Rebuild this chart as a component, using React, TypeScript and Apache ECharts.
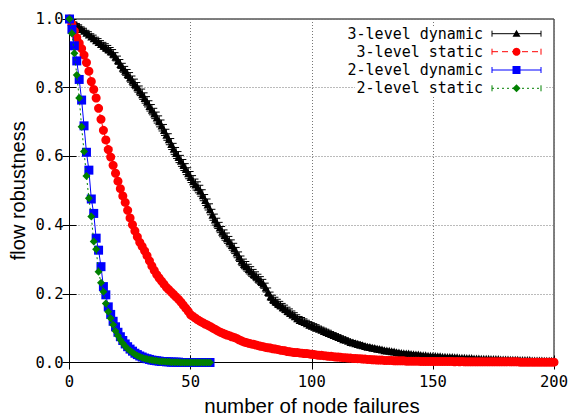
import React, { useEffect, useRef } from 'react';
import * as echarts from 'echarts';

const seriesNames = ['3-level dynamic', '3-level static', '2-level dynamic', '2-level static'];

// flow robustness vs number of node failures (x = index)
const threeLevelDynamic = [
  1.000, 0.993, 0.987, 0.982, 0.977, 0.971, 0.966, 0.960, 0.955, 0.949,
  0.944, 0.938, 0.933, 0.927, 0.922, 0.917, 0.912, 0.906, 0.899, 0.890,
  0.880, 0.869, 0.858, 0.849, 0.840, 0.830, 0.820, 0.811, 0.801, 0.791,
  0.781, 0.770, 0.759, 0.747, 0.736, 0.725, 0.713, 0.702, 0.690, 0.677,
  0.663, 0.650, 0.636, 0.622, 0.610, 0.598, 0.587, 0.575, 0.563, 0.551,
  0.540, 0.528, 0.518, 0.510, 0.500, 0.487, 0.473, 0.460, 0.446, 0.430,
  0.416, 0.405, 0.393, 0.381, 0.371, 0.362, 0.352, 0.342, 0.332, 0.320,
  0.308, 0.296, 0.287, 0.280, 0.272, 0.265, 0.258, 0.251, 0.244, 0.237,
  0.229, 0.218, 0.205, 0.193, 0.184, 0.178, 0.172, 0.167, 0.161, 0.156,
  0.150, 0.145, 0.140, 0.135, 0.129, 0.124, 0.121, 0.118, 0.114, 0.110,
  0.107, 0.104, 0.101, 0.098, 0.095, 0.092, 0.089, 0.086, 0.083, 0.080,
  0.077, 0.074, 0.071, 0.068, 0.066, 0.063, 0.060, 0.058, 0.056, 0.054,
  0.052, 0.050, 0.048, 0.046, 0.045, 0.043, 0.042, 0.040, 0.039, 0.038,
  0.036, 0.035, 0.034, 0.033, 0.032, 0.030, 0.029, 0.028, 0.027, 0.026,
  0.026, 0.025, 0.024, 0.023, 0.023, 0.022, 0.021, 0.021, 0.020, 0.020,
  0.019, 0.019, 0.018, 0.018, 0.017, 0.017, 0.016, 0.016, 0.016, 0.015,
  0.015, 0.014, 0.014, 0.014, 0.013, 0.013, 0.013, 0.012, 0.012, 0.012,
  0.011, 0.011, 0.011, 0.011, 0.010, 0.010, 0.010, 0.010, 0.009, 0.009,
  0.009, 0.009, 0.008, 0.008, 0.008, 0.008, 0.007, 0.007, 0.007, 0.007,
  0.007, 0.006, 0.006, 0.006, 0.006, 0.006, 0.005, 0.005, 0.005, 0.005,
  0.005,
];

const threeLevelDynamicErr = [
  0.000, 0.003, 0.004, 0.005, 0.006, 0.006, 0.007, 0.007, 0.008, 0.008,
  0.009, 0.009, 0.010, 0.010, 0.010, 0.011, 0.011, 0.011, 0.012, 0.012,
  0.012, 0.013, 0.013, 0.013, 0.013, 0.014, 0.014, 0.014, 0.014, 0.014,
  0.015, 0.015, 0.015, 0.015, 0.015, 0.015, 0.016, 0.016, 0.016, 0.016,
  0.016, 0.016, 0.016, 0.016, 0.016, 0.016, 0.016, 0.016, 0.016, 0.016,
  0.016, 0.016, 0.016, 0.016, 0.016, 0.016, 0.016, 0.016, 0.016, 0.016,
  0.016, 0.015, 0.015, 0.015, 0.015, 0.015, 0.015, 0.015, 0.015, 0.015,
  0.014, 0.014, 0.014, 0.014, 0.014, 0.014, 0.013, 0.013, 0.013, 0.013,
  0.013, 0.013, 0.012, 0.012, 0.012, 0.012, 0.012, 0.011, 0.011, 0.011,
  0.011, 0.011, 0.010, 0.010, 0.010, 0.010, 0.010, 0.009, 0.009, 0.009,
  0.009, 0.009, 0.009, 0.008, 0.008, 0.008, 0.008, 0.008, 0.007, 0.007,
  0.007, 0.007, 0.007, 0.007, 0.006, 0.006, 0.006, 0.006, 0.006, 0.006,
  0.006, 0.005, 0.005, 0.005, 0.005, 0.005, 0.005, 0.005, 0.005, 0.004,
  0.004, 0.004, 0.004, 0.004, 0.004, 0.004, 0.004, 0.004, 0.004, 0.004,
  0.004, 0.004, 0.004, 0.004, 0.004, 0.003, 0.003, 0.003, 0.003, 0.003,
  0.003, 0.003, 0.003, 0.003, 0.003, 0.003, 0.003, 0.003, 0.003, 0.003,
  0.003, 0.003, 0.003, 0.003, 0.003, 0.003, 0.003, 0.003, 0.003, 0.003,
  0.003, 0.003, 0.003, 0.003, 0.002, 0.002, 0.002, 0.002, 0.002, 0.002,
  0.002, 0.002, 0.002, 0.002, 0.002, 0.002, 0.002, 0.002, 0.002, 0.002,
  0.002, 0.002, 0.002, 0.002, 0.002, 0.002, 0.002, 0.002, 0.002, 0.002,
  0.002,
];

const threeLevelStatic = [
  1.000, 0.985, 0.965, 0.946, 0.930, 0.914, 0.895, 0.873, 0.848, 0.818,
  0.795, 0.770, 0.740, 0.708, 0.676, 0.648, 0.620, 0.598, 0.574, 0.551,
  0.528, 0.506, 0.485, 0.466, 0.443, 0.421, 0.401, 0.383, 0.366, 0.350,
  0.338, 0.325, 0.311, 0.296, 0.281, 0.268, 0.256, 0.246, 0.237, 0.228,
  0.219, 0.212, 0.205, 0.198, 0.191, 0.184, 0.176, 0.167, 0.158, 0.149,
  0.139, 0.134, 0.129, 0.124, 0.120, 0.116, 0.112, 0.109, 0.105, 0.101,
  0.097, 0.093, 0.089, 0.086, 0.083, 0.080, 0.078, 0.075, 0.073, 0.070,
  0.066, 0.063, 0.060, 0.058, 0.056, 0.054, 0.053, 0.051, 0.049, 0.047,
  0.046, 0.044, 0.043, 0.042, 0.040, 0.039, 0.038, 0.036, 0.035, 0.034,
  0.032, 0.031, 0.030, 0.029, 0.029, 0.028, 0.027, 0.026, 0.026, 0.025,
  0.024, 0.023, 0.022, 0.021, 0.021, 0.020, 0.019, 0.018, 0.018, 0.017,
  0.016, 0.016, 0.015, 0.014, 0.014, 0.013, 0.013, 0.012, 0.012, 0.011,
  0.011, 0.010, 0.010, 0.009, 0.009, 0.008, 0.008, 0.007, 0.007, 0.007,
  0.006, 0.006, 0.006, 0.006, 0.005, 0.005, 0.005, 0.005, 0.005, 0.004,
  0.004, 0.004, 0.004, 0.004, 0.004, 0.003, 0.003, 0.003, 0.003, 0.003,
  0.003, 0.003, 0.003, 0.003, 0.003, 0.003, 0.003, 0.003, 0.003, 0.002,
  0.003, 0.002, 0.003, 0.002, 0.002, 0.002, 0.002, 0.002, 0.002, 0.002,
  0.002, 0.002, 0.002, 0.002, 0.002, 0.002, 0.002, 0.002, 0.002, 0.002,
  0.002, 0.002, 0.002, 0.002, 0.002, 0.002, 0.001, 0.001, 0.001, 0.001,
  0.001, 0.001, 0.001, 0.001, 0.001, 0.001, 0.001, 0.001, 0.001, 0.001,
  0.001,
];

const twoLevelDynamic = [
  1.000, 0.970, 0.922, 0.878, 0.824, 0.764, 0.689, 0.612, 0.560, 0.476,
  0.434, 0.362, 0.327, 0.279, 0.221, 0.197, 0.162, 0.140, 0.120, 0.104,
  0.088, 0.075, 0.064, 0.054, 0.046, 0.039, 0.033, 0.027, 0.023, 0.019,
  0.016, 0.013, 0.011, 0.009, 0.007, 0.006, 0.005, 0.004, 0.003, 0.003,
  0.002, 0.002, 0.001, 0.001, 0.001, 0.001, 0.000, 0.000, 0.000, 0.000,
  0.000, 0.000, 0.000, 0.000, 0.000, 0.000, 0.000, 0.000, 0.000,
];

const twoLevelStatic = [
  1.000, 0.958, 0.900, 0.837, 0.770, 0.686, 0.614, 0.543, 0.478, 0.425,
  0.352, 0.330, 0.264, 0.232, 0.206, 0.172, 0.148, 0.129, 0.110, 0.092,
  0.078, 0.066, 0.056, 0.047, 0.040, 0.034, 0.029, 0.024, 0.020, 0.017,
  0.014, 0.012, 0.010, 0.008, 0.007, 0.006, 0.005, 0.004, 0.003, 0.003,
  0.002, 0.002, 0.001, 0.001, 0.001, 0.001, 0.000, 0.000, 0.000, 0.000,
  0.000, 0.000, 0.000, 0.000, 0.000, 0.000, 0.000, 0.000, 0.000,
];

const xTickValues = [0, 50, 100, 150, 200];
const yTickLabels = ['0.0', '0.2', '0.4', '0.6', '0.8', '1.0'];
const xAxisTitle = 'number of node failures';
const yAxisTitle = 'flow robustness';

const GRID = { left: 69.5, top: 19, width: 485, height: 343.5 };
const MONO = 'DejaVu Sans Mono';
const SANS = 'Liberation Sans';

const pairs = (arr: number[]) => arr.map((v, i) => [i, v]);

export default function App() {
  const ref = useRef<HTMLDivElement>(null);
  useEffect(() => {
    document.body.style.margin = '0';
    if (!ref.current) return;
    const chart = echarts.init(ref.current, undefined, { renderer: 'svg' });

    const colors = ['#000000', '#ff0000', '#0000ff', '#008000'];
    const dashes: any[] = ['solid', [6, 4], 'solid', [2, 3]];

    // legend graphics
    const rowY = [33.7, 51.7, 70, 88.3];
    const textRight = 483;
    const lx1 = 492, lx2 = 541, mx = 516.5;
    const legendEls: any[] = [
      { type: 'rect', shape: { x: 355, y: 26, width: 190, height: 71 }, style: { fill: '#fff' }, z: 50 },
    ];
    seriesNames.forEach((name, i) => {
      const y = rowY[i];
      const c = colors[i];
      legendEls.push({
        type: 'text', x: textRight, y, z: 60,
        style: { text: name, font: `15px "${MONO}"`, fill: '#000', align: 'right', verticalAlign: 'middle' },
      });
      legendEls.push({
        type: 'line', z: 60, shape: { x1: lx1, y1: y, x2: lx2, y2: y },
        style: { stroke: c, lineWidth: 1, lineDash: dashes[i] === 'solid' ? null : dashes[i] },
      });
      legendEls.push({ type: 'line', z: 60, shape: { x1: lx1, y1: y - 3, x2: lx1, y2: y + 3 }, style: { stroke: c, lineWidth: 1 } });
      legendEls.push({ type: 'line', z: 60, shape: { x1: lx2, y1: y - 3, x2: lx2, y2: y + 3 }, style: { stroke: c, lineWidth: 1 } });
      if (i === 0) {
        legendEls.push({ type: 'polygon', z: 61, shape: { points: [[mx, y - 4], [mx + 4, y + 3], [mx - 4, y + 3]] }, style: { fill: c } });
      } else if (i === 1) {
        legendEls.push({ type: 'circle', z: 61, shape: { cx: mx, cy: y, r: 4 }, style: { fill: c } });
      } else if (i === 2) {
        legendEls.push({ type: 'rect', z: 61, shape: { x: mx - 4, y: y - 4, width: 8, height: 8 }, style: { fill: c } });
      } else {
        legendEls.push({ type: 'polygon', z: 61, shape: { points: [[mx, y - 4], [mx + 4, y], [mx, y + 4], [mx - 4, y]] }, style: { fill: c } });
      }
    });

    const gridMidY = GRID.top + GRID.height / 2;
    const gridMidX = GRID.left + GRID.width / 2;
    const titles: any[] = [
      {
        type: 'text', x: 18, y: gridMidY, rotation: Math.PI / 2, z: 60,
        style: { text: yAxisTitle, font: `20px "${SANS}"`, fill: '#000', align: 'center', verticalAlign: 'middle' },
      },
      {
        type: 'text', x: gridMidX, y: 405, z: 60,
        style: { text: xAxisTitle, font: `20.5px "${SANS}"`, fill: '#000', align: 'center', verticalAlign: 'middle' },
      },
    ];

    const splitLine = { show: true, lineStyle: { color: '#777', type: [1, 2], width: 1 } };
    const axisLine = { show: true, lineStyle: { color: '#000', width: 1 } };
    const axisTick = { show: true, inside: true, length: 7, lineStyle: { color: '#000', width: 1 } };

    const mkLine = (i: number, arr: number[], symbol: string, size: number) => ({
      type: 'line',
      name: seriesNames[i],
      data: pairs(arr),
      symbol,
      symbolSize: size,
      showSymbol: true,
      showAllSymbol: true,
      color: colors[i],
      lineStyle: { color: colors[i], width: 1, type: dashes[i] },
      itemStyle: { color: colors[i] },
      clip: false,
      silent: true,
      z: 3 + i,
    });

    chart.setOption({
      animation: false,
      grid: { ...GRID, show: true, borderColor: '#000', borderWidth: 1, backgroundColor: 'transparent' },
      xAxis: [
        {
          type: 'value', min: 0, max: 200, interval: 50, position: 'bottom',
          axisLine, axisTick, splitLine,
          axisLabel: {
            fontFamily: MONO, fontSize: 15.5, color: '#000', margin: 11,
            formatter: (v: number) => (xTickValues.includes(v) ? String(v) : ''),
          },
        },
        {
          type: 'value', min: 0, max: 200, interval: 50, position: 'top',
          axisLine, axisTick, splitLine: { show: false }, axisLabel: { show: false },
        },
      ],
      yAxis: [
        {
          type: 'value', min: 0, max: 1, interval: 0.2, position: 'left',
          axisLine, axisTick, splitLine,
          axisLabel: {
            fontFamily: MONO, fontSize: 15.5, color: '#000', margin: 6,
            formatter: (v: number) => yTickLabels[Math.round(v / 0.2)] ?? '',
          },
        },
        {
          type: 'value', min: 0, max: 1, interval: 0.2, position: 'right',
          axisLine, axisTick, splitLine: { show: false }, axisLabel: { show: false },
        },
      ],
      series: [
        {
          type: 'custom',
          data: threeLevelDynamic.map((v, i) => [i, v, threeLevelDynamicErr[i]]),
          encode: { x: 0, y: 1 },
          silent: true,
          z: 2,
          renderItem: (_p: any, api: any) => {
            const x = api.value(0), y = api.value(1), e = api.value(2);
            const lo = api.coord([x, y - e]);
            const hi = api.coord([x, y + e]);
            const w = 3;
            const st = { stroke: '#000', lineWidth: 1 };
            return {
              type: 'group',
              children: [
                { type: 'line', shape: { x1: lo[0], y1: lo[1], x2: hi[0], y2: hi[1] }, style: st },
                { type: 'line', shape: { x1: lo[0] - w, y1: lo[1], x2: lo[0] + w, y2: lo[1] }, style: st },
                { type: 'line', shape: { x1: hi[0] - w, y1: hi[1], x2: hi[0] + w, y2: hi[1] }, style: st },
              ],
            };
          },
        },
        mkLine(0, threeLevelDynamic, 'triangle', 8),
        mkLine(1, threeLevelStatic, 'circle', 9),
        mkLine(2, twoLevelDynamic, 'rect', 9),
        mkLine(3, twoLevelStatic, 'diamond', 8),
      ],
      graphic: [...legendEls, ...titles],
    });
    return () => chart.dispose();
  }, []);
  return <div ref={ref} style={{ width: 571, height: 417 }} />;
}
